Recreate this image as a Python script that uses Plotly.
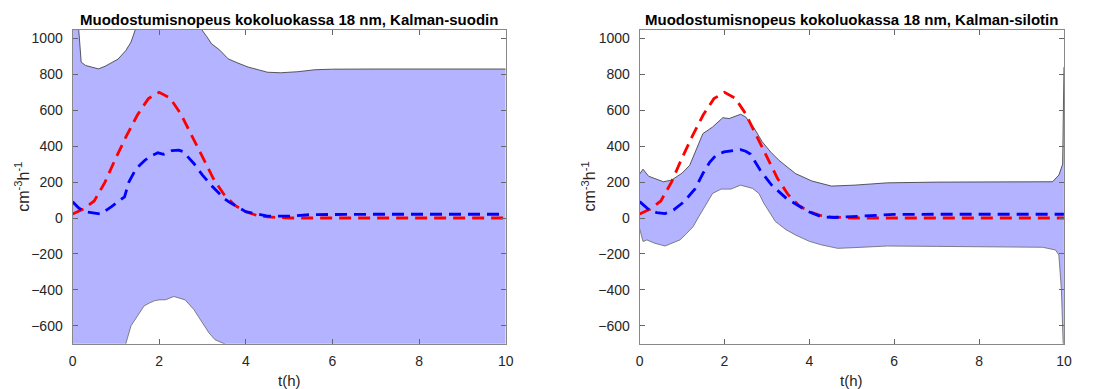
import plotly.graph_objects as go

# ---------------- data ----------------
# true formation rate (red dashed), same in both panels
t_true = [0, 0.25, 0.5, 0.75, 1.0, 1.25, 1.5, 1.75, 2.0, 2.25, 2.5, 2.75, 3.0,
          3.25, 3.5, 3.75, 4.0, 4.25, 4.5, 4.75, 5, 6, 7, 8, 9, 10]
j_true = [22, 50, 95, 200, 335, 460, 575, 665, 700, 668, 580, 460, 335,
          220, 130, 70, 35, 15, 6, 2, 0, 0, 0, 0, 0, 0]

# Kalman filter estimate (left panel)
t_filt = [0, 0.15, 0.3, 0.5, 0.65, 0.9, 1.1, 1.2, 1.3, 1.45, 1.55, 1.67, 1.8,
          1.97, 2.1, 2.3, 2.45, 2.55, 2.8, 3.0, 3.2, 3.5, 3.6, 4.0, 4.5, 5.0,
          5.5, 6, 7, 8, 9, 10]
j_filt = [91, 54, 35, 26, 22, 63, 100, 118, 200, 267, 294, 322, 344,
          363, 355, 376, 378, 370, 304, 239, 183, 109, 91, 35, 11, 10,
          19, 21, 21, 21, 21, 21]
t_filt_up = [0, 0.14, 0.2, 0.3, 0.45, 0.6, 0.75, 0.93, 1.05, 1.23, 1.35, 1.45,
             1.6, 2.0, 2.5, 2.9, 2.98, 3.1, 3.21, 3.4, 3.59, 3.8, 4.05, 4.3,
             4.5, 4.8, 5.2, 5.6, 6.0, 7, 8, 9, 10]
j_filt_up = [2000, 1060, 868, 850, 840, 831, 845, 868, 885, 933, 980, 1050,
             1100, 1150, 1160, 1100, 1050, 1010, 970, 935, 887, 865, 841, 825,
             812, 809, 815, 826, 829, 830, 830, 830, 830]
t_filt_lo = [0, 0.5, 1.0, 1.23, 1.35, 1.54, 1.65, 1.77, 1.9, 2.0, 2.15, 2.34,
             2.45, 2.6, 2.8, 2.98, 3.15, 3.29, 3.5, 4.0, 5.0, 6, 8, 10]
j_filt_lo = [-1400, -820, -760, -700, -600, -530, -490, -474, -460, -456, -455,
             -437, -445, -456, -510, -576, -640, -678, -700, -760, -790, -790,
             -790, -790]

# Kalman smoother estimate (right panel)
t_smoo = [0, 0.2, 0.4, 0.6, 0.8, 1.0, 1.15, 1.3, 1.49, 1.65, 1.8, 1.99, 2.2,
          2.38, 2.5, 2.61, 2.84, 3.11, 3.46, 3.67, 3.98, 4.29, 4.6, 5.0, 5.44,
          6, 7, 8, 9, 10]
j_smoo = [91, 50, 30, 25, 45, 82, 120, 160, 248, 310, 350, 368, 375,
          381, 372, 356, 267, 183, 109, 81, 35, 7, 3, 8, 15,
          20, 21, 21, 21, 21]
t_smoo_up = [0, 0.08, 0.21, 0.4, 0.56, 0.75, 1.0, 1.18, 1.35, 1.49, 1.72, 1.96,
             2.11, 2.25, 2.38, 2.5, 2.7, 2.89, 3.1, 3.28, 3.5, 3.67, 4.06, 4.52,
             5.05, 5.84, 7, 8, 9, 9.73, 9.88, 9.97, 10]
j_smoo_up = [245, 272, 233, 215, 202, 211, 250, 294, 390, 470, 507, 559,
             554, 565, 578, 563, 500, 424, 365, 322, 280, 248, 206, 178,
             183, 196, 200, 200, 200, 202, 239, 300, 840]
t_smoo_lo = [0, 0.04, 0.08, 0.17, 0.35, 0.6, 0.95, 1.1, 1.26, 1.4, 1.53, 1.72,
             1.92, 2.15, 2.38, 2.66, 2.81, 2.93, 3.2, 3.45, 3.67, 4.0, 4.29,
             4.67, 5.05, 5.84, 7, 8, 9, 9.5, 9.8, 9.88, 9.94, 9.98, 10]
j_smoo_lo = [-60, -100, -131, -122, -140, -156, -122, -88, -48, 10, 63, 137,
             161, 161, 183, 165, 137, 81, -20, -65, -94, -130, -150,
             -169, -165, -156, -158, -160, -162, -163, -178, -206, -400, -650, -830]

titles = ["Muodostumisnopeus kokoluokassa 18 nm, Kalman-suodin",
          "Muodostumisnopeus kokoluokassa 18 nm, Kalman-silotin"]
x_ticks = [0, 2, 4, 6, 8, 10]
y_ticks = [-600, -400, -200, 0, 200, 400, 600, 800, 1000]

# ---------------- figure ----------------
W, H = 1094, 389
FILL = "#b3b3ff"
DASH = "12px,7px"
FONT = "Liberation Sans, Arial, sans-serif"

fig = go.Figure()

panels = [
    (t_filt_lo, j_filt_lo, t_filt_up, j_filt_up, t_filt, j_filt),
    (t_smoo_lo, j_smoo_lo, t_smoo_up, j_smoo_up, t_smoo, j_smoo),
]
for i, (tl, jl, tu, ju, te, je) in enumerate(panels):
    xa = "x" if i == 0 else "x2"
    ya = "y" if i == 0 else "y2"
    fig.add_trace(go.Scatter(x=tl, y=jl, mode="lines", xaxis=xa, yaxis=ya,
                             line=dict(color="#666666", width=0.8),
                             showlegend=False, hoverinfo="skip"))
    fig.add_trace(go.Scatter(x=tu, y=ju, mode="lines", xaxis=xa, yaxis=ya,
                             fill="tonexty", fillcolor=FILL,
                             line=dict(color="#333333", width=0.8),
                             showlegend=False, hoverinfo="skip"))
    fig.add_trace(go.Scatter(x=t_true, y=j_true, mode="lines", xaxis=xa, yaxis=ya,
                             line=dict(color="#ff0000", width=2.8, dash=DASH),
                             showlegend=False))
    fig.add_trace(go.Scatter(x=te, y=je, mode="lines", xaxis=xa, yaxis=ya,
                             line=dict(color="#0000ff", width=2.8, dash=DASH),
                             showlegend=False))

ax_px = [(69.3, 507.3), (642.7, 1071.7)]
top_px, bot_px = 29.5, 343.7
ydom = [1 - bot_px / H, 1 - top_px / H]
tickfont = dict(family=FONT, size=14, color="#262626")

common_x = dict(range=[0, 10], tickvals=x_ticks, ticks="inside", ticklen=5,
                tickcolor="#666666", showline=True, linecolor="#888888", linewidth=1,
                mirror="ticks", showgrid=False, zeroline=False, tickfont=tickfont,
                ticklabelstandoff=4)
common_y = dict(range=[-700, 1050], tickvals=y_ticks, ticks="inside", ticklen=5,
                tickcolor="#666666", showline=True, linecolor="#888888", linewidth=1,
                mirror="ticks", showgrid=False, zeroline=False, tickfont=tickfont,
                ticklabelstandoff=6)

fig.update_layout(
    width=W, height=H,
    margin=dict(l=0, r=0, t=0, b=0),
    paper_bgcolor="white", plot_bgcolor="white",
    xaxis=dict(domain=[ax_px[0][0] / W, ax_px[0][1] / W], anchor="y", **common_x),
    yaxis=dict(domain=ydom, anchor="x", **common_y),
    xaxis2=dict(domain=[ax_px[1][0] / W, ax_px[1][1] / W], anchor="y2", **common_x),
    yaxis2=dict(domain=ydom, anchor="x2", **common_y),
)

annos = []
for i in range(2):
    x0, x1 = ax_px[i]
    cx = (x0 + x1) / 2 / W
    annos.append(dict(text="<b>" + titles[i] + "</b>", x=cx, y=1 - 19 / H,
                      xref="paper", yref="paper", showarrow=False,
                      xanchor="center", yanchor="middle",
                      font=dict(family=FONT, size=15, color="black")))
    annos.append(dict(text="t(h)", x=cx, y=1 - 380 / H,
                      xref="paper", yref="paper", showarrow=False,
                      xanchor="center", yanchor="middle",
                      font=dict(family=FONT, size=15, color="#262626")))
    lx = 18 if i == 0 else 591
    annos.append(dict(text="cm<sup>-3</sup>h<sup>-1</sup>", x=lx / W, y=1 - 187 / H,
                      xref="paper", yref="paper", showarrow=False, textangle=-90,
                      xanchor="center", yanchor="middle",
                      font=dict(family=FONT, size=16, color="#262626")))
fig.update_layout(annotations=annos)

fig.write_html("out.html")
